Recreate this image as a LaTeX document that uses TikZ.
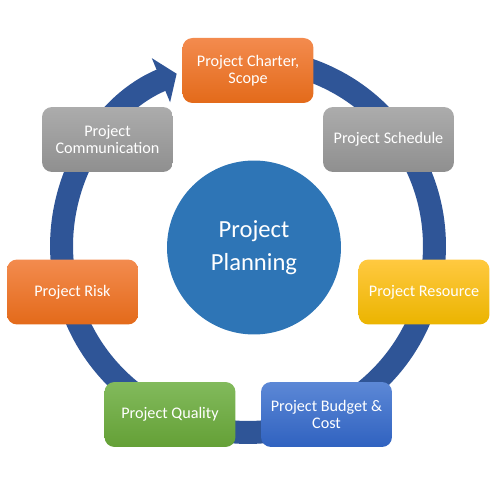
\documentclass[tikz,border=0pt]{standalone}
\usepackage{fontspec}
\setmainfont{Carlito}
\usetikzlibrary{arrows.meta, positioning, shapes}

\definecolor{ringblue}{RGB}{47,85,151}
\definecolor{hubblue}{RGB}{46,117,182}

\begin{document}
\begin{tikzpicture}[x=0.02cm, y=0.02cm,
    stage/.style={rectangle, rounded corners=0.2cm, minimum width=2.62cm, minimum height=1.3cm, inner sep=0pt, align=center, text=white, font=\fontsize{9.2}{10}\selectfont},
    orangestage/.style={stage, top color={rgb,255:red,243;green,139;blue,78}, bottom color={rgb,255:red,227;green,106;blue,26}},
    graystage/.style={stage, top color={rgb,255:red,172;green,172;blue,172}, bottom color={rgb,255:red,143;green,143;blue,143}},
    yellowstage/.style={stage, top color={rgb,255:red,255;green,201;blue,64}, bottom color={rgb,255:red,235;green,180;blue,0}},
    bluestage/.style={stage, top color={rgb,255:red,92;green,136;blue,214}, bottom color={rgb,255:red,48;green,98;blue,192}},
    greenstage/.style={stage, top color={rgb,255:red,130;green,186;blue,92}, bottom color={rgb,255:red,100;green,160;blue,54}},
    hub/.style={circle, fill=hubblue, minimum size=3.48cm, inner sep=0pt, align=center, text=white, font=\fontsize{14}{18.5}\selectfont},
    cycle/.style={draw=ringblue, line width=0.46cm, -{Triangle[length=0.34cm, width=0.94cm]}}]

    \useasboundingbox (0,0) rectangle (500,500);

    % ring behind everything
    \coordinate (ringcenter) at (248,254);
    \draw[cycle] ([shift={(90:3.73cm)}]ringcenter) arc (90:-247.5:3.73cm);

    \node[hub] (planning) at (254,252.5) {Project\\Planning};

    \node[orangestage] (charter) at (248,429.5) {Project Charter,\\Scope};
    \node[graystage] (schedule) at (388.5,360.5) {Project Schedule};
    \node[yellowstage] (resource) at (424,208) {Project Resource};
    \node[bluestage] (budget) at (326.5,85.5) {Project Budget \&\\Cost};
    \node[greenstage] (quality) at (170,85.5) {Project Quality};
    \node[orangestage] (risk) at (72.5,208) {Project Risk};
    \node[graystage] (communication) at (107.5,360.5) {Project\\Communication};
\end{tikzpicture}
\end{document}
